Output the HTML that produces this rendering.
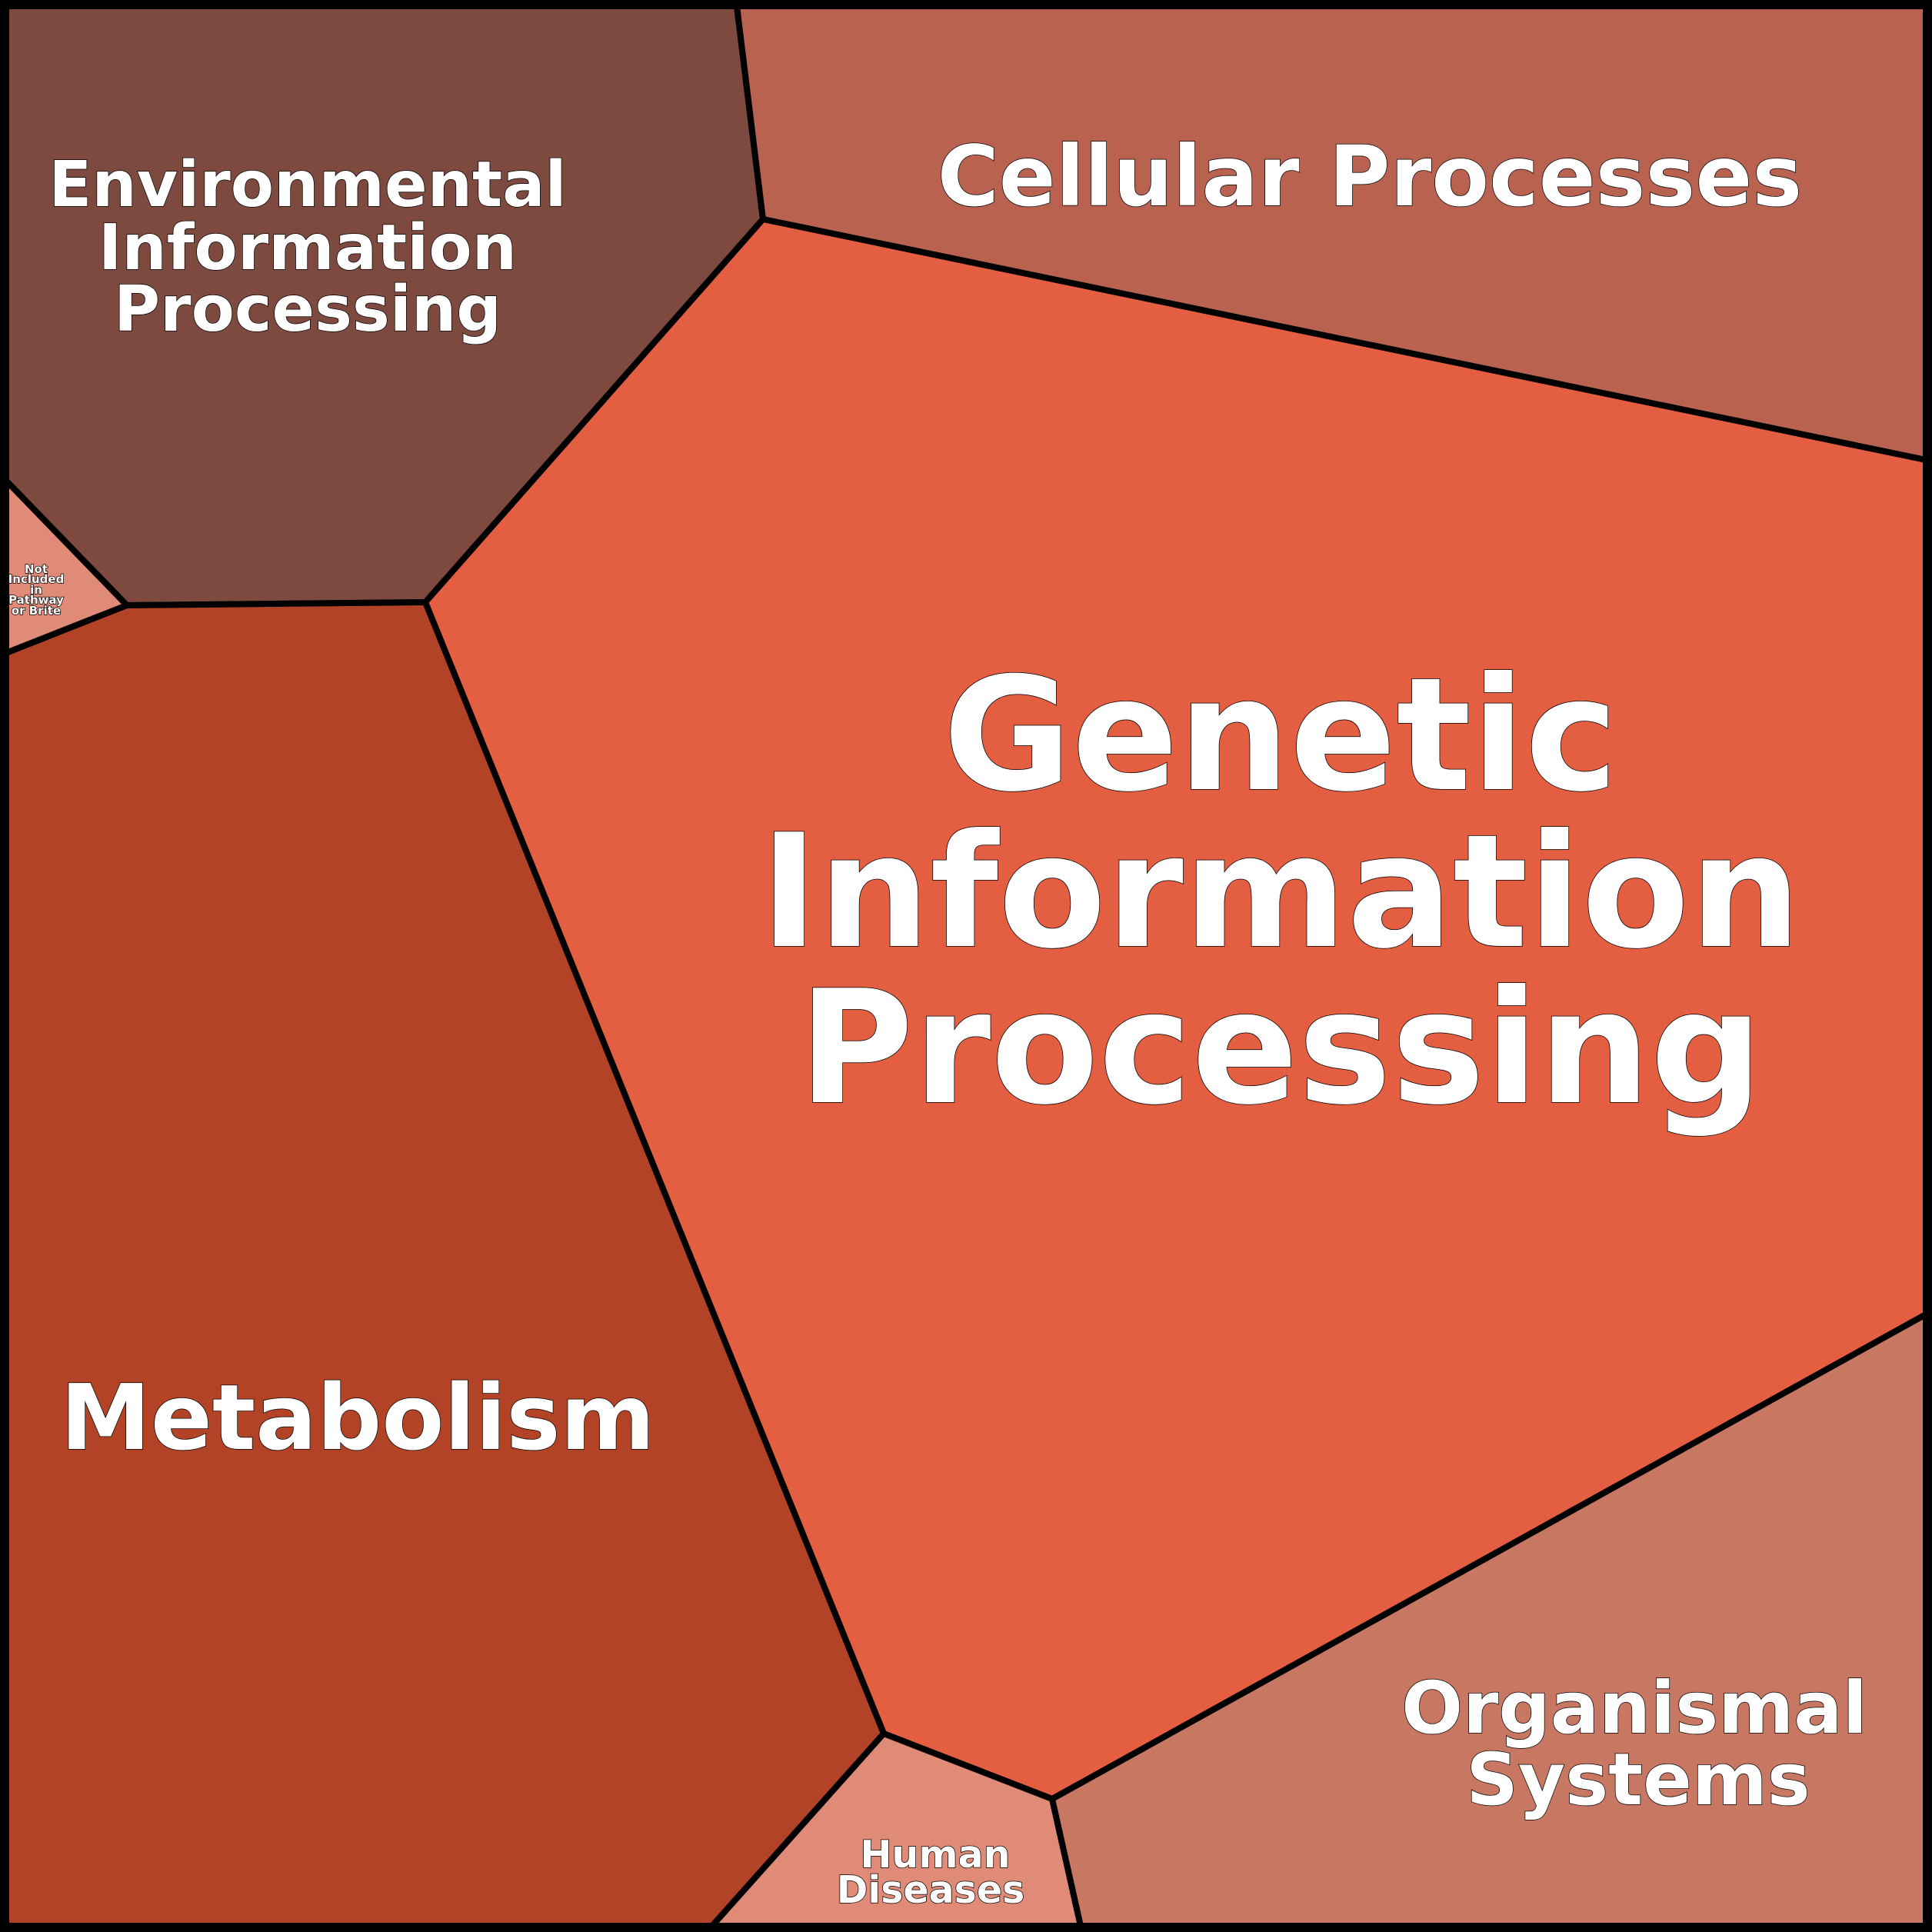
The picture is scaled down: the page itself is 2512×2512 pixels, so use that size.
<!DOCTYPE html>
<html><head><meta charset="utf-8"><style>html,body{margin:0;padding:0;background:#fff}svg{display:block}
text{font-family:"DejaVu Sans","Liberation Sans",sans-serif;font-weight:bold;fill:#fff;stroke:#000;stroke-width:1.5;paint-order:stroke;text-anchor:middle}</style></head>
<body>
<svg width="2512" height="2512" viewBox="0 0 2512 2512" xmlns="http://www.w3.org/2000/svg">
<g stroke="#000" stroke-width="8" stroke-linejoin="round">
<polygon points="8,8 958,8 992,285 553,783 165,787 8,625" fill="#7e4a3f"/>
<polygon points="958,8 2504,8 2504,598 992,285" fill="#b96250"/>
<polygon points="992,285 2504,598 2504,1709 1368,2339 1149,2254 553,783" fill="#e45f41"/>
<polygon points="8,625 165,787 8,849" fill="#e08b78"/>
<polygon points="8,849 165,787 553,783 1149,2254 926,2504 8,2504" fill="#b34326"/>
<polygon points="1149,2254 1368,2339 1405,2504 926,2504" fill="#e08b78"/>
<polygon points="1368,2339 2504,1709 2504,2504 1405,2504" fill="#c87762"/>
</g>
<rect x="5" y="5" width="2502" height="2502" fill="none" stroke="#000" stroke-width="10"/>
<text x="1665" y="1026" font-size="204">Genetic</text>
<text x="1665" y="1230" font-size="204">Information</text>
<text x="1665" y="1433" font-size="204">Processing</text>
<text x="1781" y="267" font-size="109">Cellular Processes</text>
<text x="400" y="268" font-size="82">Environmental</text>
<text x="400" y="350" font-size="82">Information</text>
<text x="400" y="430" font-size="82">Processing</text>
<text x="465" y="1884" font-size="118">Metabolism</text>
<text x="2125" y="2253" font-size="94">Organismal</text>
<text x="2130" y="2346" font-size="94">Systems</text>
<text x="1216" y="2428" font-size="49" stroke-width="1">Human</text>
<text x="1210" y="2474" font-size="49" stroke-width="1">Diseases</text>
<g font-size="15" stroke-width="0.6" font-weight="normal">
<text x="47" y="745">Not</text>
<text x="47" y="758">Included</text>
<text x="47" y="772">in</text>
<text x="47" y="785">Pathway</text>
<text x="47" y="799">or Brite</text>
</g>
</svg>
</body></html>
